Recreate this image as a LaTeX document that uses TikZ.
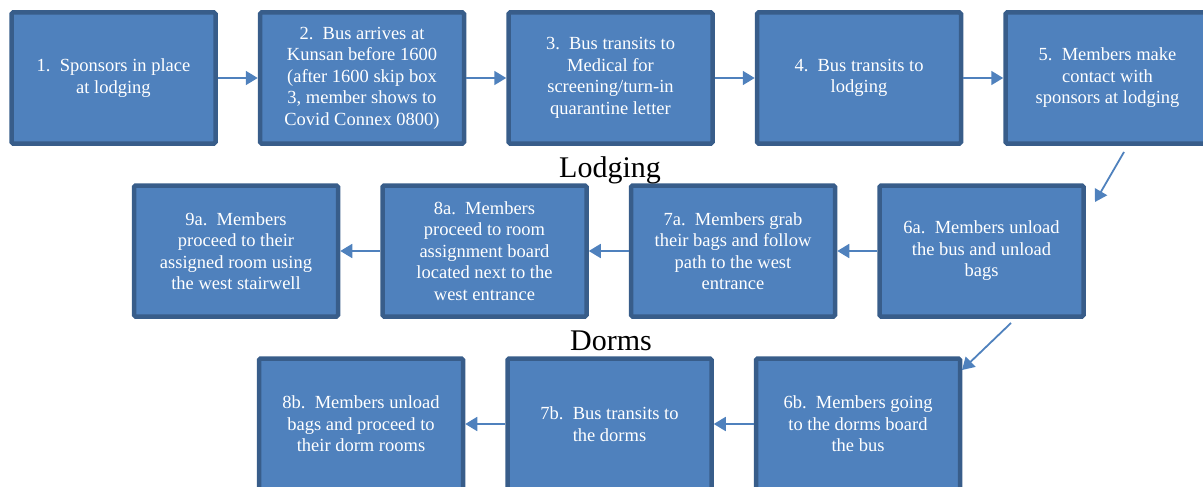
\documentclass[tikz,border=0pt]{standalone}
\usepackage{fontspec}
\setmainfont{Liberation Serif}
\usetikzlibrary{positioning,arrows.meta}
\definecolor{boxfill}{HTML}{4F81BD}
\definecolor{boxline}{HTML}{385D8A}

\begin{document}
\begin{tikzpicture}[x=1pt,y=-1pt,
    stage/.style={draw=boxline, fill=boxfill, line width=4.5pt, rounded corners=1.5pt,
        minimum width=204pt, minimum height=131pt, align=center, text=white,
        font=\fontsize{18.5}{21.5}\selectfont, inner sep=2pt},
    flow/.style={draw=boxfill, line width=1.8pt, -{Triangle[length=12pt,width=14pt]}},
    heading/.style={font=\fontsize{30}{34}\selectfont, anchor=base}
]
    \useasboundingbox (0,0) rectangle (1203,487);

    \node[stage] (s1) at (113.5,78) {1.\ \ Sponsors in place\\at lodging};
    \node[stage, right=40pt of s1] (s2) {2.\ \ Bus arrives at\\Kunsan before 1600\\(after 1600 skip box\\3, member shows to\\Covid Connex 0800)};
    \node[stage, right=40pt of s2] (s3) {3.\ \ Bus transits to\\Medical for\\screening/turn-in\\quarantine letter};
    \node[stage, right=40pt of s3] (s4) {4.\ \ Bus transits to\\lodging};
    \node[stage, right=40pt of s4] (s5) {5.\ \ Members make\\contact with\\sponsors at lodging};

    \node[stage] (s6a) at (981.5,251) {6a.\ \ Members unload\\the bus and unload\\bags};
    \node[stage, left=40pt of s6a] (s7a) {7a.\ \ Members grab\\their bags and follow\\path to the west\\entrance};
    \node[stage, left=40pt of s7a] (s8a) {8a.\ \ Members\\proceed to room\\assignment board\\located next to the\\west entrance};
    \node[stage, left=40pt of s8a] (s9a) {9a.\ \ Members\\proceed to their\\assigned room using\\the west stairwell};

    \node[stage] (s6b) at (858,424) {6b.\ \ Members going\\to the dorms board\\the bus};
    \node[stage, left=40pt of s6b] (s7b) {7b.\ \ Bus transits to\\the dorms};
    \node[stage, left=40pt of s7b] (s8b) {8b.\ \ Members unload\\bags and proceed to\\their dorm rooms};

    \node[heading] (lodging) at (610,177) {Lodging};
    \node[heading] (dorms) at (611,350) {Dorms};

    \foreach \a/\b in {s1/s2,s2/s3,s3/s4,s4/s5,s6a/s7a,s7a/s8a,s8a/s9a,s6b/s7b,s7b/s8b}
        \draw[flow] (\a) -- (\b);

    \coordinate (turn1) at (1124,152);
    \coordinate (turn1end) at (1095,202);
    \coordinate (turn2) at (1011,323);
    \coordinate (turn2end) at (962,370);
    \draw[flow] (turn1) -- (turn1end);
    \draw[flow] (turn2) -- (turn2end);
\end{tikzpicture}
\end{document}
